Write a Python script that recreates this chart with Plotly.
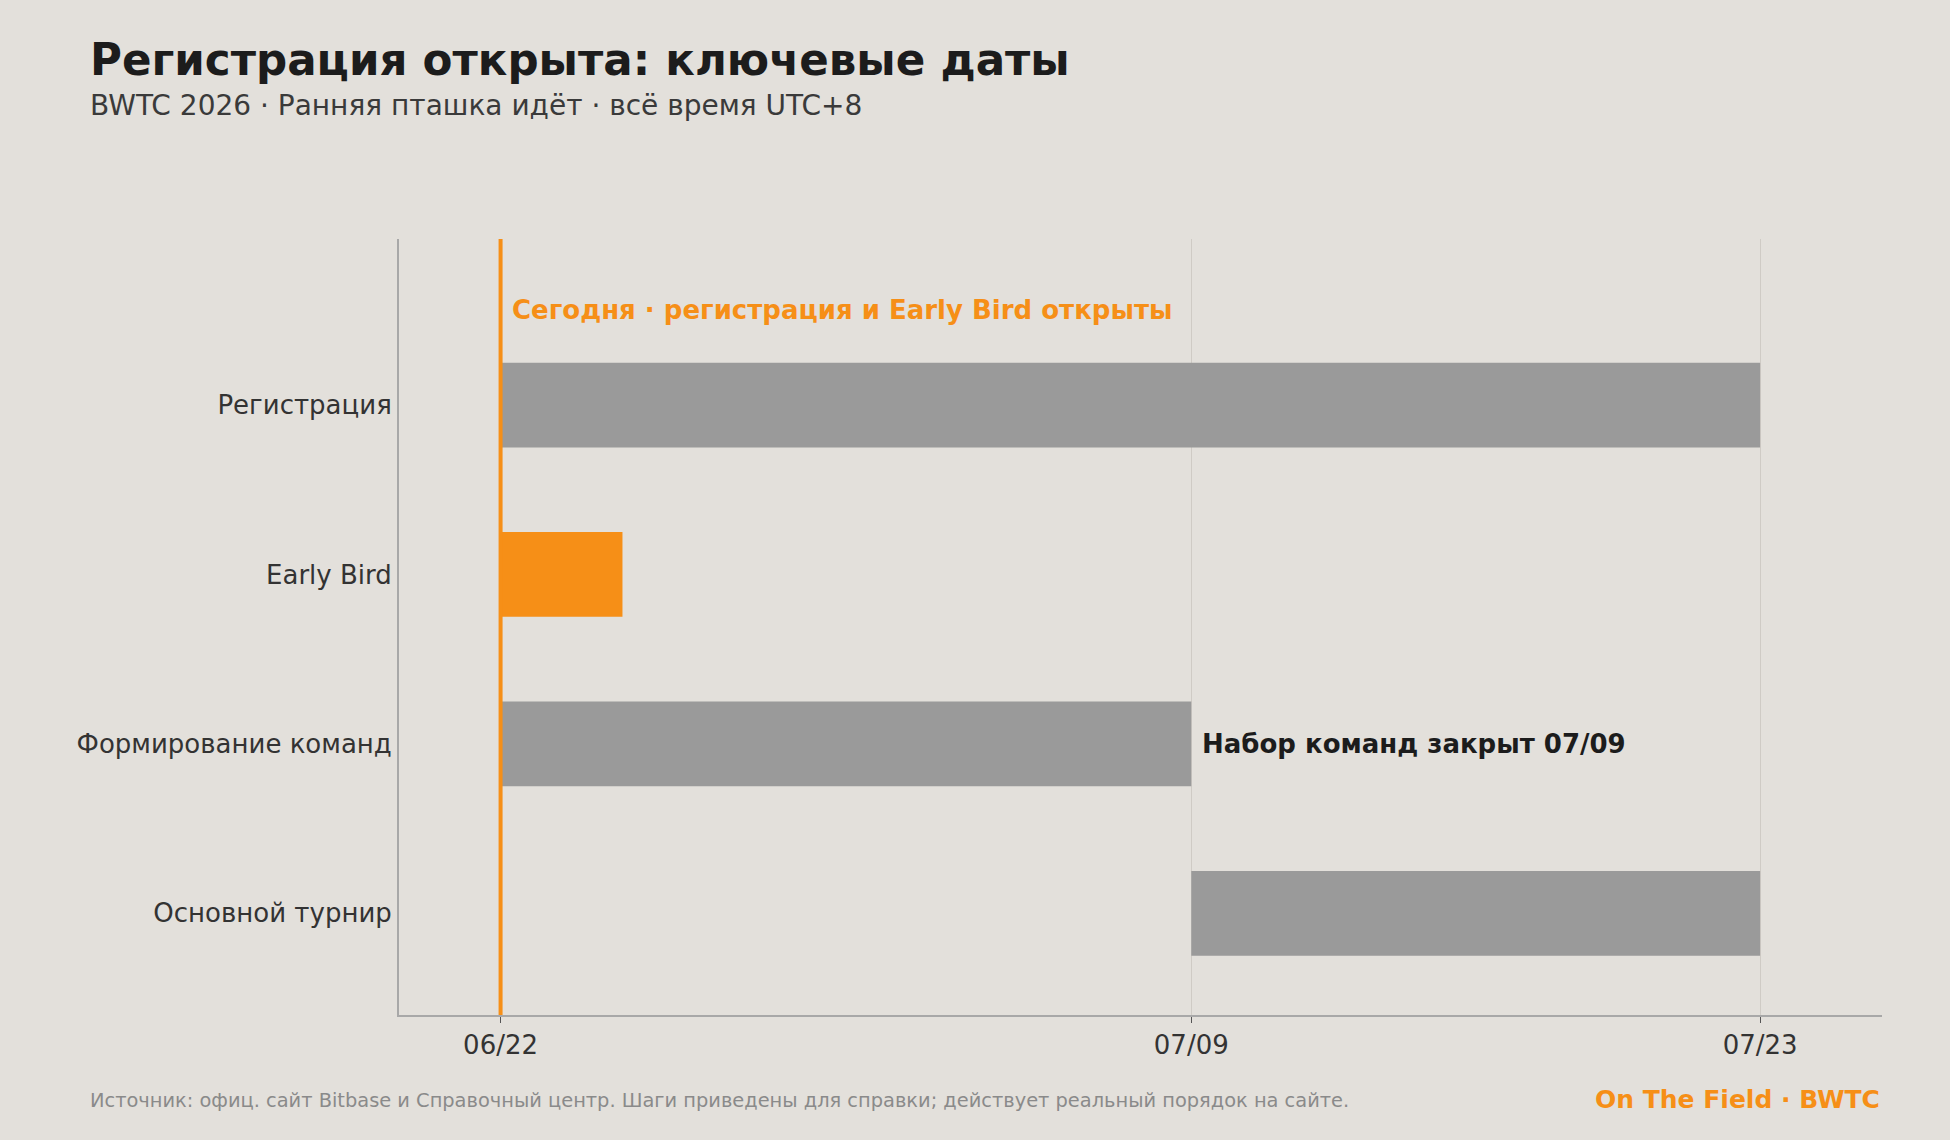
import plotly.graph_objects as go
import pandas as pd

# ---- data ----
phases = ["Регистрация", "Early Bird", "Формирование команд", "Основной турнир"]
starts = ["2026-06-22", "2026-06-22", "2026-06-22", "2026-07-09"]
ends = ["2026-07-23", "2026-06-25", "2026-07-09", "2026-07-23"]
highlight = [False, True, False, False]
today = "2026-06-22"
tick_dates = ["2026-06-22", "2026-07-09", "2026-07-23"]
tick_labels = ["06/22", "07/09", "07/23"]
x_range = ["2026-06-19 12:00", "2026-07-26"]

title = "Регистрация открыта: ключевые даты"
subtitle = "BWTC 2026 · Ранняя пташка идёт · всё время UTC+8"
today_note = "Сегодня · регистрация и Early Bird открыты"
team_note = "Набор команд закрыт 07/09"
source = "Источник: офиц. сайт Bitbase и Справочный центр. Шаги приведены для справки; действует реальный порядок на сайте."
brand = "On The Field · BWTC"

BG = "#e3e0db"
ORANGE = "#f68f17"
GRAY = "#9a9a9a"
FONT = "DejaVu Sans"

s = pd.to_datetime(starts)
e = pd.to_datetime(ends)
dur_ms = [(b - a).total_seconds() * 1000 for a, b in zip(s, e)]
colors = [ORANGE if h else GRAY for h in highlight]

W, H = 1950, 1140
L, R, T, B = 399, 68, 239, 125
pw, ph = W - L - R, H - T - B
def px(x):
    return (x - L) / pw
def py(y):
    return (H - B - y) / ph

fig = go.Figure()
fig.add_trace(go.Bar(
    y=phases, x=dur_ms, base=starts, orientation="h",
    marker=dict(color=colors, line=dict(width=0)),
    width=0.5, hoverinfo="skip", showlegend=False,
))

fig.add_shape(type="line", xref="x", yref="paper", x0=today, x1=today, y0=0, y1=1,
              line=dict(color=ORANGE, width=4), layer="above")

fig.add_annotation(x=today, y=-0.56, xref="x", yref="y", text=f"<b>{today_note}</b>",
                   showarrow=False, xanchor="left", yanchor="middle", xshift=9,
                   font=dict(family=FONT, size=26, color=ORANGE))
fig.add_annotation(x=ends[2], y=phases[2], xref="x", yref="y", text=f"<b>{team_note}</b>",
                   showarrow=False, xanchor="left", yanchor="middle", xshift=9,
                   font=dict(family=FONT, size=26, color="#1c1c1c"))

fig.add_annotation(x=px(88), y=py(60), xref="paper", yref="paper", text=f"<b>{title}</b>",
                   showarrow=False, xanchor="left", yanchor="middle",
                   font=dict(family=FONT, size=43.6, color="#1c1c1c"))
fig.add_annotation(x=px(88), y=py(106), xref="paper", yref="paper", text=subtitle,
                   showarrow=False, xanchor="left", yanchor="middle",
                   font=dict(family=FONT, size=28, color="#3a3a3a"))
fig.add_annotation(x=px(88), y=py(1100), xref="paper", yref="paper", text=source,
                   showarrow=False, xanchor="left", yanchor="middle",
                   font=dict(family=FONT, size=19.4, color="#8a8a8a"))
fig.add_annotation(x=px(1882), y=py(1099), xref="paper", yref="paper", text=f"<b>{brand}</b>",
                   showarrow=False, xanchor="right", yanchor="middle",
                   font=dict(family=FONT, size=25, color=ORANGE))

fig.update_layout(
    width=W, height=H,
    paper_bgcolor=BG, plot_bgcolor=BG,
    margin=dict(l=L, r=R, t=T, b=B),
    font=dict(family=FONT, color="#333333"),
)

fig.update_xaxes(
    type="date", range=x_range, tickvals=tick_dates, ticktext=tick_labels,
    showgrid=True, gridcolor="#cfcbc5", gridwidth=1,
    showline=True, linecolor="#a8a8a8", linewidth=2,
    ticks="outside", ticklen=6, tickcolor="#555555",
    tickfont=dict(family=FONT, size=26, color="#333333"),
    zeroline=False, fixedrange=True,
)
fig.update_yaxes(
    type="category", categoryorder="array", categoryarray=phases,
    range=[3.6, -0.98], showgrid=False,
    showline=True, linecolor="#a8a8a8", linewidth=2,
    ticks="", ticklabelstandoff=0,
    tickfont=dict(family=FONT, size=26, color="#333333"),
    zeroline=False, fixedrange=True,
)

fig.write_html("out.html")
